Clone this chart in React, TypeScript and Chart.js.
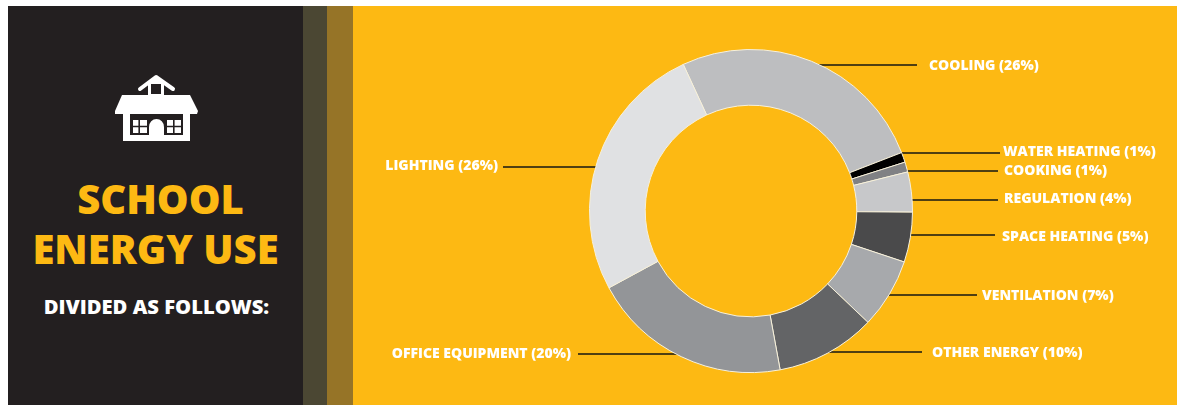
import React, { useEffect, useRef } from "react";
import { Chart, registerables } from "chart.js";

Chart.register(...registerables);

// Energy use by category, in percent
const categories = ["COOLING", "WATER HEATING", "COOKING", "REGULATION", "SPACE HEATING", "VENTILATION", "OTHER ENERGY", "OFFICE EQUIPMENT", "LIGHTING"];
const shares = [26, 1, 1, 4, 5, 7, 10, 20, 26];
const sliceColors = ["#bdbec0", "#000000", "#808184", "#c7c8ca", "#4a4a4b", "#a7a9ac", "#636466", "#939598", "#e0e1e3"];

// Callout placement in canvas pixels: label anchor x, leader y, text y, leader's far end x
const calloutAnchorX = [576, 650, 651, 651, 649, 629, 579, 218, 145];
const calloutLeaderEndX = [564, 647, 645, 645, 642, 624, 569, 225, 150];
const calloutLeaderY = [59, 147, 165, 194, 229, 289, 346, 348, 161];
const calloutTextY = [60, 146, 165, 193, 231, 290, 347, 348, 160];

const YELLOW = "#fdb913";
const DARK = "#231f20";
const LEADER = "#4f3f12";
const LABEL_FONT = "800 14px 'Open Sans'";

const calloutPlugin = {
  id: "callouts",
  // Leaders go underneath the ring, so they end cleanly at its outer edge
  beforeDatasetsDraw(chart: any) {
    const arc = chart.getDatasetMeta(0).data[0];
    const { ctx } = chart;
    ctx.save();
    ctx.strokeStyle = LEADER;
    ctx.lineWidth = 2;
    categories.forEach((_, i) => {
      const y = calloutLeaderY[i];
      const farX = calloutLeaderEndX[i];
      const side = farX > arc.x ? 1 : -1;
      const reach = Math.sqrt(Math.max(0, (arc.outerRadius - 3) ** 2 - (y - arc.y) ** 2));
      ctx.beginPath();
      ctx.moveTo(farX, y);
      ctx.lineTo(arc.x + side * reach, y);
      ctx.stroke();
    });
    ctx.restore();
  },
  afterDatasetsDraw(chart: any) {
    const arc = chart.getDatasetMeta(0).data[0];
    const { ctx } = chart;
    ctx.save();
    ctx.fillStyle = "#ffffff";
    ctx.font = LABEL_FONT;
    ctx.textBaseline = "middle";
    categories.forEach((name, i) => {
      const isLeft = calloutAnchorX[i] < arc.x;
      ctx.textAlign = isLeft ? "right" : "left";
      ctx.fillText(`${name} (${shares[i]}%)`, calloutAnchorX[i], calloutTextY[i]);
    });
    ctx.restore();
  },
};

function SchoolIcon() {
  return (
    <svg width={90} height={70} viewBox="112 73 90 70" style={{ position: "absolute", left: 112, top: 73 }}>
      <path d="M140 89 L156 77 L173 89" fill="none" stroke="#fff" strokeWidth={4} strokeLinejoin="round" strokeLinecap="round" />
      <path d="M148 83 L156 78 L164 83 V97 H148 Z" fill="#fff" />
      <rect x={151} y={84} width={10} height={10} fill={DARK} />
      <path d="M122 95 H190 L198 111 L197 114 H115 L115 111 Z" fill="#fff" strokeLinejoin="round" />
      <rect x={123} y={113} width={67} height={28} fill="#fff" />
      <rect x={130} y={114} width={53} height={21} fill={DARK} />
      <rect x={133} y={120} width={14} height={13} fill="#fff" />
      <rect x={167} y={120} width={14} height={13} fill="#fff" />
      <path d="M139.2 120 V133 M133 126.5 H147 M173.8 120 V133 M167 126.5 H181" stroke={DARK} strokeWidth={1.6} />
      <path d="M149 141 V127 A7.5 8 0 0 1 164 127 V141 Z" fill="#fff" />
    </svg>
  );
}

const headingStyle: React.CSSProperties = {
  position: "absolute",
  left: 8,
  width: 295,
  textAlign: "center",
  fontFamily: "'Open Sans'",
  fontWeight: 800,
  whiteSpace: "nowrap",
};

export default function App() {
  const canvasRef = useRef<HTMLCanvasElement>(null);

  useEffect(() => {
    const chart = new Chart(canvasRef.current!, {
      type: "doughnut",
      data: {
        labels: categories,
        datasets: [{
          data: shares,
          backgroundColor: sliceColors,
          borderColor: "#f6f0dc",
          borderWidth: 1,
        }],
      },
      options: {
        responsive: false,
        animation: false,
        rotation: -24.8,
        cutout: "65.5%",
        layout: { padding: { left: 236, right: 264, top: 43, bottom: 32 } },
        plugins: { legend: { display: false }, tooltip: { enabled: false } },
      },
      plugins: [calloutPlugin],
    });
    return () => chart.destroy();
  }, []);

  return (
    <div style={{ position: "absolute", left: 0, top: 0, width: 1177, height: 405, overflow: "hidden", background: "#fff" }}>
      <div style={{ position: "absolute", left: 8, top: 6, width: 295, height: 399, background: DARK }} />
      <div style={{ position: "absolute", left: 303, top: 6, width: 24, height: 399, background: "#4b4733" }} />
      <div style={{ position: "absolute", left: 327, top: 6, width: 26, height: 399, background: "#967427" }} />
      <div style={{ position: "absolute", left: 353, top: 6, width: 824, height: 399, background: YELLOW }} />
      <SchoolIcon />
      <div style={{ ...headingStyle, left: 13, top: 174, fontSize: 40, lineHeight: "50px", color: YELLOW }}>SCHOOL</div>
      <div style={{ ...headingStyle, top: 224, fontSize: 40, lineHeight: "50px", color: YELLOW }}>ENERGY USE</div>
      <div style={{ ...headingStyle, left: 9, top: 292, fontSize: 20.2, lineHeight: "28px", color: "#fff" }}>DIVIDED AS FOLLOWS:</div>
      <canvas ref={canvasRef} width={824} height={399} style={{ position: "absolute", left: 353, top: 6, width: 824, height: 399 }} />
    </div>
  );
}
